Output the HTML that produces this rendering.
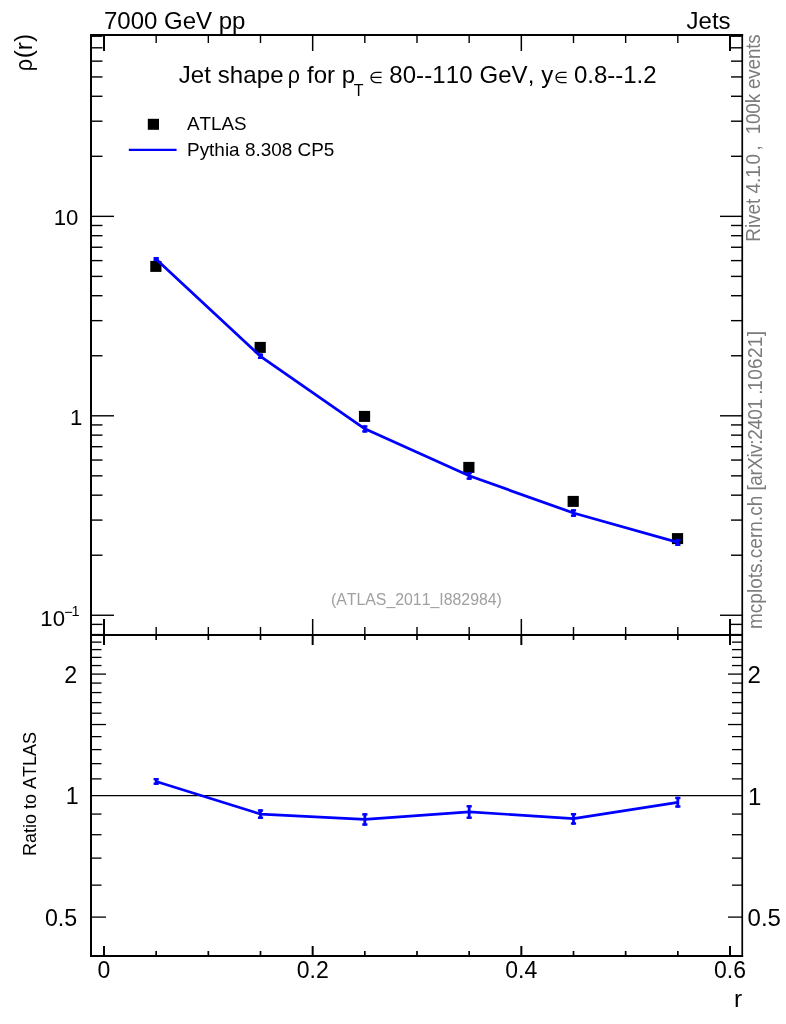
<!DOCTYPE html>
<html lang="en"><head><meta charset="utf-8"><title>Jet shape rho - ATLAS vs Pythia 8.308 CP5</title>
<style>html,body{margin:0;padding:0;background:#fff}body{width:786px;height:1024px;overflow:hidden}svg{display:block;will-change:transform}text{font-kerning:none;font-family:"Liberation Sans",Arial,Helvetica,sans-serif;fill:#000}</style></head><body>
<svg width="786" height="1024" viewBox="0 0 786 1024">
<rect width="786" height="1024" fill="#fff"/>
<g id="ticks-top-y">
<line x1="91.00" y1="634.58" x2="102.50" y2="634.58" stroke="#000" stroke-width="1.4"/>
<line x1="742.00" y1="634.58" x2="731.00" y2="634.58" stroke="#000" stroke-width="1.4"/>
<line x1="91.00" y1="624.38" x2="102.50" y2="624.38" stroke="#000" stroke-width="1.4"/>
<line x1="742.00" y1="624.38" x2="731.00" y2="624.38" stroke="#000" stroke-width="1.4"/>
<line x1="91.00" y1="615.25" x2="114.00" y2="615.25" stroke="#000" stroke-width="1.4"/>
<line x1="742.00" y1="615.25" x2="720.00" y2="615.25" stroke="#000" stroke-width="1.4"/>
<line x1="91.00" y1="555.21" x2="102.50" y2="555.21" stroke="#000" stroke-width="1.4"/>
<line x1="742.00" y1="555.21" x2="731.00" y2="555.21" stroke="#000" stroke-width="1.4"/>
<line x1="91.00" y1="520.09" x2="102.50" y2="520.09" stroke="#000" stroke-width="1.4"/>
<line x1="742.00" y1="520.09" x2="731.00" y2="520.09" stroke="#000" stroke-width="1.4"/>
<line x1="91.00" y1="495.17" x2="102.50" y2="495.17" stroke="#000" stroke-width="1.4"/>
<line x1="742.00" y1="495.17" x2="731.00" y2="495.17" stroke="#000" stroke-width="1.4"/>
<line x1="91.00" y1="475.84" x2="102.50" y2="475.84" stroke="#000" stroke-width="1.4"/>
<line x1="742.00" y1="475.84" x2="731.00" y2="475.84" stroke="#000" stroke-width="1.4"/>
<line x1="91.00" y1="460.05" x2="102.50" y2="460.05" stroke="#000" stroke-width="1.4"/>
<line x1="742.00" y1="460.05" x2="731.00" y2="460.05" stroke="#000" stroke-width="1.4"/>
<line x1="91.00" y1="446.70" x2="102.50" y2="446.70" stroke="#000" stroke-width="1.4"/>
<line x1="742.00" y1="446.70" x2="731.00" y2="446.70" stroke="#000" stroke-width="1.4"/>
<line x1="91.00" y1="435.13" x2="102.50" y2="435.13" stroke="#000" stroke-width="1.4"/>
<line x1="742.00" y1="435.13" x2="731.00" y2="435.13" stroke="#000" stroke-width="1.4"/>
<line x1="91.00" y1="424.93" x2="102.50" y2="424.93" stroke="#000" stroke-width="1.4"/>
<line x1="742.00" y1="424.93" x2="731.00" y2="424.93" stroke="#000" stroke-width="1.4"/>
<line x1="91.00" y1="415.80" x2="114.00" y2="415.80" stroke="#000" stroke-width="1.4"/>
<line x1="742.00" y1="415.80" x2="720.00" y2="415.80" stroke="#000" stroke-width="1.4"/>
<line x1="91.00" y1="355.76" x2="102.50" y2="355.76" stroke="#000" stroke-width="1.4"/>
<line x1="742.00" y1="355.76" x2="731.00" y2="355.76" stroke="#000" stroke-width="1.4"/>
<line x1="91.00" y1="320.64" x2="102.50" y2="320.64" stroke="#000" stroke-width="1.4"/>
<line x1="742.00" y1="320.64" x2="731.00" y2="320.64" stroke="#000" stroke-width="1.4"/>
<line x1="91.00" y1="295.72" x2="102.50" y2="295.72" stroke="#000" stroke-width="1.4"/>
<line x1="742.00" y1="295.72" x2="731.00" y2="295.72" stroke="#000" stroke-width="1.4"/>
<line x1="91.00" y1="276.39" x2="102.50" y2="276.39" stroke="#000" stroke-width="1.4"/>
<line x1="742.00" y1="276.39" x2="731.00" y2="276.39" stroke="#000" stroke-width="1.4"/>
<line x1="91.00" y1="260.60" x2="102.50" y2="260.60" stroke="#000" stroke-width="1.4"/>
<line x1="742.00" y1="260.60" x2="731.00" y2="260.60" stroke="#000" stroke-width="1.4"/>
<line x1="91.00" y1="247.25" x2="102.50" y2="247.25" stroke="#000" stroke-width="1.4"/>
<line x1="742.00" y1="247.25" x2="731.00" y2="247.25" stroke="#000" stroke-width="1.4"/>
<line x1="91.00" y1="235.68" x2="102.50" y2="235.68" stroke="#000" stroke-width="1.4"/>
<line x1="742.00" y1="235.68" x2="731.00" y2="235.68" stroke="#000" stroke-width="1.4"/>
<line x1="91.00" y1="225.48" x2="102.50" y2="225.48" stroke="#000" stroke-width="1.4"/>
<line x1="742.00" y1="225.48" x2="731.00" y2="225.48" stroke="#000" stroke-width="1.4"/>
<line x1="91.00" y1="216.35" x2="114.00" y2="216.35" stroke="#000" stroke-width="1.4"/>
<line x1="742.00" y1="216.35" x2="720.00" y2="216.35" stroke="#000" stroke-width="1.4"/>
<line x1="91.00" y1="156.31" x2="102.50" y2="156.31" stroke="#000" stroke-width="1.4"/>
<line x1="742.00" y1="156.31" x2="731.00" y2="156.31" stroke="#000" stroke-width="1.4"/>
<line x1="91.00" y1="121.19" x2="102.50" y2="121.19" stroke="#000" stroke-width="1.4"/>
<line x1="742.00" y1="121.19" x2="731.00" y2="121.19" stroke="#000" stroke-width="1.4"/>
<line x1="91.00" y1="96.27" x2="102.50" y2="96.27" stroke="#000" stroke-width="1.4"/>
<line x1="742.00" y1="96.27" x2="731.00" y2="96.27" stroke="#000" stroke-width="1.4"/>
<line x1="91.00" y1="76.94" x2="102.50" y2="76.94" stroke="#000" stroke-width="1.4"/>
<line x1="742.00" y1="76.94" x2="731.00" y2="76.94" stroke="#000" stroke-width="1.4"/>
<line x1="91.00" y1="61.15" x2="102.50" y2="61.15" stroke="#000" stroke-width="1.4"/>
<line x1="742.00" y1="61.15" x2="731.00" y2="61.15" stroke="#000" stroke-width="1.4"/>
<line x1="91.00" y1="47.80" x2="102.50" y2="47.80" stroke="#000" stroke-width="1.4"/>
<line x1="742.00" y1="47.80" x2="731.00" y2="47.80" stroke="#000" stroke-width="1.4"/>
<line x1="91.00" y1="36.23" x2="102.50" y2="36.23" stroke="#000" stroke-width="1.4"/>
<line x1="742.00" y1="36.23" x2="731.00" y2="36.23" stroke="#000" stroke-width="1.4"/>
</g>
<g id="ticks-ratio-y">
<line x1="91.00" y1="956.21" x2="101.50" y2="956.21" stroke="#000" stroke-width="1.3"/>
<line x1="742.00" y1="956.21" x2="732.00" y2="956.21" stroke="#000" stroke-width="1.3"/>
<line x1="91.00" y1="917.10" x2="106.00" y2="917.10" stroke="#000" stroke-width="1.3"/>
<line x1="742.00" y1="917.10" x2="728.00" y2="917.10" stroke="#000" stroke-width="1.3"/>
<line x1="91.00" y1="885.14" x2="101.50" y2="885.14" stroke="#000" stroke-width="1.3"/>
<line x1="742.00" y1="885.14" x2="732.00" y2="885.14" stroke="#000" stroke-width="1.3"/>
<line x1="91.00" y1="858.12" x2="101.50" y2="858.12" stroke="#000" stroke-width="1.3"/>
<line x1="742.00" y1="858.12" x2="732.00" y2="858.12" stroke="#000" stroke-width="1.3"/>
<line x1="91.00" y1="834.71" x2="101.50" y2="834.71" stroke="#000" stroke-width="1.3"/>
<line x1="742.00" y1="834.71" x2="732.00" y2="834.71" stroke="#000" stroke-width="1.3"/>
<line x1="91.00" y1="814.07" x2="101.50" y2="814.07" stroke="#000" stroke-width="1.3"/>
<line x1="742.00" y1="814.07" x2="732.00" y2="814.07" stroke="#000" stroke-width="1.3"/>
<line x1="91.00" y1="778.89" x2="101.50" y2="778.89" stroke="#000" stroke-width="1.3"/>
<line x1="742.00" y1="778.89" x2="732.00" y2="778.89" stroke="#000" stroke-width="1.3"/>
<line x1="91.00" y1="763.64" x2="101.50" y2="763.64" stroke="#000" stroke-width="1.3"/>
<line x1="742.00" y1="763.64" x2="732.00" y2="763.64" stroke="#000" stroke-width="1.3"/>
<line x1="91.00" y1="749.61" x2="101.50" y2="749.61" stroke="#000" stroke-width="1.3"/>
<line x1="742.00" y1="749.61" x2="732.00" y2="749.61" stroke="#000" stroke-width="1.3"/>
<line x1="91.00" y1="736.62" x2="101.50" y2="736.62" stroke="#000" stroke-width="1.3"/>
<line x1="742.00" y1="736.62" x2="732.00" y2="736.62" stroke="#000" stroke-width="1.3"/>
<line x1="91.00" y1="724.53" x2="106.00" y2="724.53" stroke="#000" stroke-width="1.3"/>
<line x1="742.00" y1="724.53" x2="728.00" y2="724.53" stroke="#000" stroke-width="1.3"/>
<line x1="91.00" y1="713.21" x2="101.50" y2="713.21" stroke="#000" stroke-width="1.3"/>
<line x1="742.00" y1="713.21" x2="732.00" y2="713.21" stroke="#000" stroke-width="1.3"/>
<line x1="91.00" y1="702.59" x2="101.50" y2="702.59" stroke="#000" stroke-width="1.3"/>
<line x1="742.00" y1="702.59" x2="732.00" y2="702.59" stroke="#000" stroke-width="1.3"/>
<line x1="91.00" y1="692.57" x2="101.50" y2="692.57" stroke="#000" stroke-width="1.3"/>
<line x1="742.00" y1="692.57" x2="732.00" y2="692.57" stroke="#000" stroke-width="1.3"/>
<line x1="91.00" y1="683.09" x2="101.50" y2="683.09" stroke="#000" stroke-width="1.3"/>
<line x1="742.00" y1="683.09" x2="732.00" y2="683.09" stroke="#000" stroke-width="1.3"/>
<line x1="91.00" y1="674.10" x2="106.00" y2="674.10" stroke="#000" stroke-width="1.3"/>
<line x1="742.00" y1="674.10" x2="728.00" y2="674.10" stroke="#000" stroke-width="1.3"/>
<line x1="91.00" y1="665.55" x2="101.50" y2="665.55" stroke="#000" stroke-width="1.3"/>
<line x1="742.00" y1="665.55" x2="732.00" y2="665.55" stroke="#000" stroke-width="1.3"/>
<line x1="91.00" y1="657.39" x2="101.50" y2="657.39" stroke="#000" stroke-width="1.3"/>
<line x1="742.00" y1="657.39" x2="732.00" y2="657.39" stroke="#000" stroke-width="1.3"/>
<line x1="91.00" y1="649.60" x2="101.50" y2="649.60" stroke="#000" stroke-width="1.3"/>
<line x1="742.00" y1="649.60" x2="732.00" y2="649.60" stroke="#000" stroke-width="1.3"/>
<line x1="91.00" y1="642.14" x2="101.50" y2="642.14" stroke="#000" stroke-width="1.3"/>
<line x1="742.00" y1="642.14" x2="732.00" y2="642.14" stroke="#000" stroke-width="1.3"/>
<line x1="91.00" y1="634.99" x2="101.50" y2="634.99" stroke="#000" stroke-width="1.3"/>
<line x1="742.00" y1="634.99" x2="732.00" y2="634.99" stroke="#000" stroke-width="1.3"/>
</g>
<g id="ticks-x">
<line x1="104.00" y1="35.00" x2="104.00" y2="51.00" stroke="#000" stroke-width="2"/>
<line x1="104.00" y1="619.00" x2="104.00" y2="635.00" stroke="#000" stroke-width="2"/>
<line x1="104.00" y1="635.00" x2="104.00" y2="645.00" stroke="#000" stroke-width="2"/>
<line x1="104.00" y1="956.00" x2="104.00" y2="946.00" stroke="#000" stroke-width="2"/>
<line x1="156.17" y1="35.00" x2="156.17" y2="43.00" stroke="#000" stroke-width="1.4"/>
<line x1="156.17" y1="627.00" x2="156.17" y2="635.00" stroke="#000" stroke-width="1.4"/>
<line x1="156.17" y1="635.00" x2="156.17" y2="640.00" stroke="#000" stroke-width="1.7"/>
<line x1="156.17" y1="956.00" x2="156.17" y2="951.00" stroke="#000" stroke-width="1.7"/>
<line x1="208.33" y1="35.00" x2="208.33" y2="43.00" stroke="#000" stroke-width="1.4"/>
<line x1="208.33" y1="627.00" x2="208.33" y2="635.00" stroke="#000" stroke-width="1.4"/>
<line x1="208.33" y1="635.00" x2="208.33" y2="640.00" stroke="#000" stroke-width="1.7"/>
<line x1="208.33" y1="956.00" x2="208.33" y2="951.00" stroke="#000" stroke-width="1.7"/>
<line x1="260.50" y1="35.00" x2="260.50" y2="43.00" stroke="#000" stroke-width="1.4"/>
<line x1="260.50" y1="627.00" x2="260.50" y2="635.00" stroke="#000" stroke-width="1.4"/>
<line x1="260.50" y1="635.00" x2="260.50" y2="640.00" stroke="#000" stroke-width="1.7"/>
<line x1="260.50" y1="956.00" x2="260.50" y2="951.00" stroke="#000" stroke-width="1.7"/>
<line x1="312.67" y1="35.00" x2="312.67" y2="51.00" stroke="#000" stroke-width="1.5"/>
<line x1="312.67" y1="619.00" x2="312.67" y2="635.00" stroke="#000" stroke-width="1.5"/>
<line x1="312.67" y1="635.00" x2="312.67" y2="645.00" stroke="#000" stroke-width="2"/>
<line x1="312.67" y1="956.00" x2="312.67" y2="946.00" stroke="#000" stroke-width="2"/>
<line x1="364.83" y1="35.00" x2="364.83" y2="43.00" stroke="#000" stroke-width="1.4"/>
<line x1="364.83" y1="627.00" x2="364.83" y2="635.00" stroke="#000" stroke-width="1.4"/>
<line x1="364.83" y1="635.00" x2="364.83" y2="640.00" stroke="#000" stroke-width="1.7"/>
<line x1="364.83" y1="956.00" x2="364.83" y2="951.00" stroke="#000" stroke-width="1.7"/>
<line x1="417.00" y1="35.00" x2="417.00" y2="43.00" stroke="#000" stroke-width="1.4"/>
<line x1="417.00" y1="627.00" x2="417.00" y2="635.00" stroke="#000" stroke-width="1.4"/>
<line x1="417.00" y1="635.00" x2="417.00" y2="640.00" stroke="#000" stroke-width="1.7"/>
<line x1="417.00" y1="956.00" x2="417.00" y2="951.00" stroke="#000" stroke-width="1.7"/>
<line x1="469.17" y1="35.00" x2="469.17" y2="43.00" stroke="#000" stroke-width="1.4"/>
<line x1="469.17" y1="627.00" x2="469.17" y2="635.00" stroke="#000" stroke-width="1.4"/>
<line x1="469.17" y1="635.00" x2="469.17" y2="640.00" stroke="#000" stroke-width="1.7"/>
<line x1="469.17" y1="956.00" x2="469.17" y2="951.00" stroke="#000" stroke-width="1.7"/>
<line x1="521.33" y1="35.00" x2="521.33" y2="51.00" stroke="#000" stroke-width="1.5"/>
<line x1="521.33" y1="619.00" x2="521.33" y2="635.00" stroke="#000" stroke-width="1.5"/>
<line x1="521.33" y1="635.00" x2="521.33" y2="645.00" stroke="#000" stroke-width="2"/>
<line x1="521.33" y1="956.00" x2="521.33" y2="946.00" stroke="#000" stroke-width="2"/>
<line x1="573.50" y1="35.00" x2="573.50" y2="43.00" stroke="#000" stroke-width="1.4"/>
<line x1="573.50" y1="627.00" x2="573.50" y2="635.00" stroke="#000" stroke-width="1.4"/>
<line x1="573.50" y1="635.00" x2="573.50" y2="640.00" stroke="#000" stroke-width="1.7"/>
<line x1="573.50" y1="956.00" x2="573.50" y2="951.00" stroke="#000" stroke-width="1.7"/>
<line x1="625.66" y1="35.00" x2="625.66" y2="43.00" stroke="#000" stroke-width="1.4"/>
<line x1="625.66" y1="627.00" x2="625.66" y2="635.00" stroke="#000" stroke-width="1.4"/>
<line x1="625.66" y1="635.00" x2="625.66" y2="640.00" stroke="#000" stroke-width="1.7"/>
<line x1="625.66" y1="956.00" x2="625.66" y2="951.00" stroke="#000" stroke-width="1.7"/>
<line x1="677.83" y1="35.00" x2="677.83" y2="43.00" stroke="#000" stroke-width="1.4"/>
<line x1="677.83" y1="627.00" x2="677.83" y2="635.00" stroke="#000" stroke-width="1.4"/>
<line x1="677.83" y1="635.00" x2="677.83" y2="640.00" stroke="#000" stroke-width="1.7"/>
<line x1="677.83" y1="956.00" x2="677.83" y2="951.00" stroke="#000" stroke-width="1.7"/>
<line x1="730.00" y1="35.00" x2="730.00" y2="51.00" stroke="#000" stroke-width="2"/>
<line x1="730.00" y1="619.00" x2="730.00" y2="635.00" stroke="#000" stroke-width="2"/>
<line x1="730.00" y1="635.00" x2="730.00" y2="645.00" stroke="#000" stroke-width="2"/>
<line x1="730.00" y1="956.00" x2="730.00" y2="946.00" stroke="#000" stroke-width="2"/>
</g>
<line x1="91.00" y1="795.60" x2="742.00" y2="795.60" stroke="#000" stroke-width="1.2"/>
<g id="atlas">
<rect x="150.27" y="260.90" width="11.2" height="11" fill="#000"/>
<rect x="254.60" y="341.90" width="11.2" height="11" fill="#000"/>
<rect x="358.93" y="410.90" width="11.2" height="11" fill="#000"/>
<rect x="463.27" y="461.90" width="11.2" height="11" fill="#000"/>
<rect x="567.60" y="495.90" width="11.2" height="11" fill="#000"/>
<rect x="671.93" y="533.10" width="11.2" height="11" fill="#000"/>
</g>
<g id="pythia">
<polyline points="156.17,259.20 260.50,356.30 364.83,428.80 469.17,475.80 573.50,513.00 677.83,542.40" fill="none" stroke="#0000ff" stroke-width="2.8" stroke-linejoin="round"/>
<line x1="156.17" y1="257.00" x2="156.17" y2="261.20" stroke="#0000ff" stroke-width="2.8"/>
<line x1="153.57" y1="258.20" x2="158.77" y2="258.20" stroke="#0000ff" stroke-width="2.4"/>
<line x1="153.57" y1="260.00" x2="158.77" y2="260.00" stroke="#0000ff" stroke-width="2.4"/>
<line x1="260.50" y1="353.50" x2="260.50" y2="359.00" stroke="#0000ff" stroke-width="2.8"/>
<line x1="257.90" y1="354.70" x2="263.10" y2="354.70" stroke="#0000ff" stroke-width="2.4"/>
<line x1="257.90" y1="357.80" x2="263.10" y2="357.80" stroke="#0000ff" stroke-width="2.4"/>
<line x1="364.83" y1="425.30" x2="364.83" y2="432.60" stroke="#0000ff" stroke-width="2.8"/>
<line x1="362.23" y1="426.50" x2="367.43" y2="426.50" stroke="#0000ff" stroke-width="2.4"/>
<line x1="362.23" y1="431.40" x2="367.43" y2="431.40" stroke="#0000ff" stroke-width="2.4"/>
<line x1="469.17" y1="471.90" x2="469.17" y2="479.80" stroke="#0000ff" stroke-width="2.8"/>
<line x1="466.57" y1="473.10" x2="471.77" y2="473.10" stroke="#0000ff" stroke-width="2.4"/>
<line x1="466.57" y1="478.60" x2="471.77" y2="478.60" stroke="#0000ff" stroke-width="2.4"/>
<line x1="573.50" y1="509.20" x2="573.50" y2="516.90" stroke="#0000ff" stroke-width="2.8"/>
<line x1="570.90" y1="510.40" x2="576.10" y2="510.40" stroke="#0000ff" stroke-width="2.4"/>
<line x1="570.90" y1="515.70" x2="576.10" y2="515.70" stroke="#0000ff" stroke-width="2.4"/>
<line x1="677.83" y1="538.90" x2="677.83" y2="546.00" stroke="#0000ff" stroke-width="2.8"/>
<line x1="675.23" y1="540.10" x2="680.43" y2="540.10" stroke="#0000ff" stroke-width="2.4"/>
<line x1="675.23" y1="544.80" x2="680.43" y2="544.80" stroke="#0000ff" stroke-width="2.4"/>
</g>
<g id="ratio">
<polyline points="156.17,781.40 260.50,814.10 364.83,819.40 469.17,811.90 573.50,818.60 677.83,802.40" fill="none" stroke="#0000ff" stroke-width="2.6" stroke-linejoin="round"/>
<line x1="156.17" y1="778.00" x2="156.17" y2="784.90" stroke="#0000ff" stroke-width="2.8"/>
<line x1="153.57" y1="779.20" x2="158.77" y2="779.20" stroke="#0000ff" stroke-width="2.4"/>
<line x1="153.57" y1="783.70" x2="158.77" y2="783.70" stroke="#0000ff" stroke-width="2.4"/>
<line x1="260.50" y1="809.30" x2="260.50" y2="818.90" stroke="#0000ff" stroke-width="2.8"/>
<line x1="257.90" y1="810.50" x2="263.10" y2="810.50" stroke="#0000ff" stroke-width="2.4"/>
<line x1="257.90" y1="817.70" x2="263.10" y2="817.70" stroke="#0000ff" stroke-width="2.4"/>
<line x1="364.83" y1="813.20" x2="364.83" y2="825.70" stroke="#0000ff" stroke-width="2.8"/>
<line x1="362.23" y1="814.40" x2="367.43" y2="814.40" stroke="#0000ff" stroke-width="2.4"/>
<line x1="362.23" y1="824.50" x2="367.43" y2="824.50" stroke="#0000ff" stroke-width="2.4"/>
<line x1="469.17" y1="805.10" x2="469.17" y2="818.90" stroke="#0000ff" stroke-width="2.8"/>
<line x1="466.57" y1="806.30" x2="471.77" y2="806.30" stroke="#0000ff" stroke-width="2.4"/>
<line x1="466.57" y1="817.70" x2="471.77" y2="817.70" stroke="#0000ff" stroke-width="2.4"/>
<line x1="573.50" y1="813.00" x2="573.50" y2="824.70" stroke="#0000ff" stroke-width="2.8"/>
<line x1="570.90" y1="814.20" x2="576.10" y2="814.20" stroke="#0000ff" stroke-width="2.4"/>
<line x1="570.90" y1="823.50" x2="576.10" y2="823.50" stroke="#0000ff" stroke-width="2.4"/>
<line x1="677.83" y1="796.80" x2="677.83" y2="807.70" stroke="#0000ff" stroke-width="2.8"/>
<line x1="675.23" y1="798.00" x2="680.43" y2="798.00" stroke="#0000ff" stroke-width="2.4"/>
<line x1="675.23" y1="806.50" x2="680.43" y2="806.50" stroke="#0000ff" stroke-width="2.4"/>
</g>
<line x1="91.00" y1="34.00" x2="91.00" y2="957.00" stroke="#000" stroke-width="2"/>
<line x1="90.00" y1="35.00" x2="743.10" y2="35.00" stroke="#000" stroke-width="2"/>
<line x1="90.00" y1="956.00" x2="743.10" y2="956.00" stroke="#000" stroke-width="2"/>
<line x1="742.25" y1="34.00" x2="742.25" y2="957.00" stroke="#000" stroke-width="1.7"/>
<line x1="91.00" y1="635.00" x2="742.00" y2="635.00" stroke="#000" stroke-width="2"/>
<rect x="147.8" y="118.8" width="11.2" height="11" fill="#000"/>
<line x1="128.80" y1="149.80" x2="176.60" y2="149.80" stroke="#0000ff" stroke-width="2.2"/>
<text x="187" y="130" font-size="18.8">ATLAS</text>
<text x="187" y="155.6" font-size="18.95">Pythia 8.308 CP5</text>
<text x="104" y="28.8" font-size="24">7000 GeV pp</text>
<text x="730.6" y="29" font-size="24" text-anchor="end">Jets</text>
<text x="178.7" y="83" font-size="24" letter-spacing="0.1">Jet shape</text>
<text transform="translate(287.8,83) scale(0.915,1)" font-size="23.5">ρ</text>
<text x="307" y="83" font-size="24">for p</text>
<text x="353.8" y="95.7" font-size="16">T</text>
<text x="369.2" y="83" font-size="16.2">∈</text>
<text x="389.2" y="83" font-size="24" letter-spacing="0.1">80--110 GeV, y</text>
<text x="554.2" y="83" font-size="16.2">∈</text>
<text x="573.9" y="83" font-size="24">0.8--1.2</text>
<text x="416.4" y="604.6" font-size="15.85" text-anchor="middle" style="fill:#a0a0a0">(ATLAS_2011_I882984)</text>
<text x="78.4" y="225" font-size="22.2" text-anchor="end">10</text>
<text x="82.4" y="424.8" font-size="22.2" text-anchor="end">1</text>
<text x="65" y="626" font-size="22.2" text-anchor="end">10</text><text x="64.2" y="616.6" font-size="14.6">−</text><text x="71.4" y="615.8" font-size="14.6">1</text>
<text x="77.2" y="682.7" font-size="23.2" text-anchor="end">2</text>
<text x="747.6" y="683.1" font-size="24">2</text>
<text x="78.6" y="804.2" font-size="23.2" text-anchor="end">1</text>
<text x="748.0" y="804.6" font-size="24">1</text>
<text x="77.2" y="925.7" font-size="23.2" text-anchor="end">0.5</text>
<text x="747.6" y="926.1" font-size="24">0.5</text>
<text x="104.0" y="978.2" font-size="23" text-anchor="middle">0</text>
<text x="312.7" y="978.2" font-size="23" text-anchor="middle">0.2</text>
<text x="521.3" y="978.2" font-size="23" text-anchor="middle">0.4</text>
<text x="730.0" y="978.2" font-size="23" text-anchor="middle">0.6</text>
<text x="742.2" y="1006.6" font-size="24.5" text-anchor="end">r</text>
<text transform="translate(31.9,33.9) rotate(-90)" font-size="24.4" text-anchor="end">(r)</text>
<text transform="translate(31.9,71.2) rotate(-90) scale(0.9,1)" font-size="24">ρ</text>
<text transform="translate(35.9,794) rotate(-90)" font-size="18" text-anchor="middle">Ratio to ATLAS</text>
<text transform="translate(760.1,241.7) rotate(-90) scale(0.9425,1)" font-size="20" style="fill:#7c7c7c" xml:space="preserve" white-space="pre">Rivet 4.1<tspan dx="-2.6">.0</tspan><tspan dx="3.7">,</tspan><tspan dx="0.9" letter-spacing="-0.16">  100k events</tspan></text>
<text transform="translate(762.3,629) rotate(-90) scale(0.952,1)" font-size="20" style="fill:#7c7c7c">mcplots.cern.ch <tspan letter-spacing="-0.5">[arXiv:2401</tspan><tspan dx="5">.</tspan><tspan dx="-1.4" letter-spacing="0.3">10621]</tspan></text>
</svg></body></html>
